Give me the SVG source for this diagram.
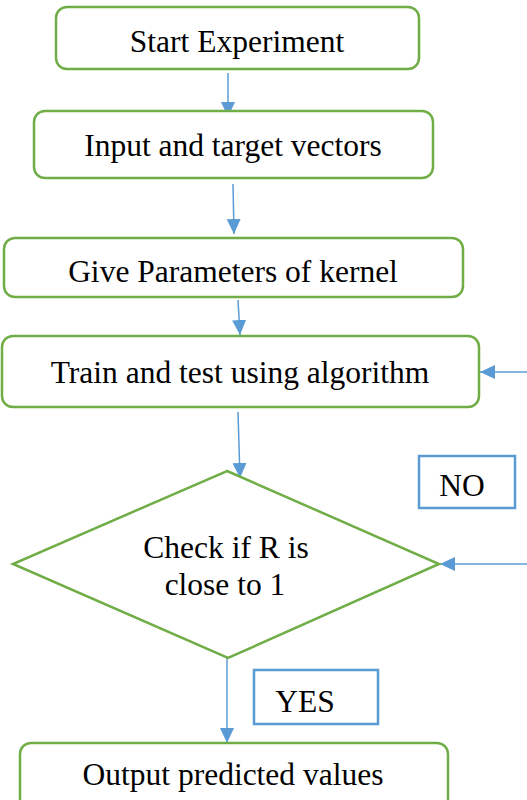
<svg xmlns="http://www.w3.org/2000/svg" width="527" height="800" viewBox="0 0 527 800">
<defs>
<marker id="ah" markerUnits="userSpaceOnUse" markerWidth="16" markerHeight="16" refX="15" refY="7" orient="auto">
<path d="M0,0 L15,7 L0,14 z" fill="#5B9BD5"/>
</marker>
<style>
.box{fill:#fff;stroke:#70AD47;stroke-width:2.5}
.lbl{fill:#fff;stroke:#5B9BD5;stroke-width:2.5}
.t{font-size:31.5px;fill:#000;text-anchor:middle}
.c{stroke:#5B9BD5;stroke-width:1.5;fill:none;marker-end:url(#ah)}
</style>
</defs>
<rect width="527" height="800" fill="#fff"/>
<g id="connectors">
<line class="c" x1="228" y1="73" x2="228" y2="117"/>
<line class="c" x1="233" y1="184" x2="234" y2="234"/>
<line class="c" x1="238" y1="300" x2="240" y2="335"/>
<line class="c" x1="238" y1="412" x2="240" y2="478"/>
<line class="c" x1="227" y1="655" x2="227" y2="743"/>
<line class="c" x1="527" y1="372" x2="480" y2="372"/>
<line class="c" x1="527" y1="564" x2="440" y2="564"/>
</g>
<g font-family="Liberation Serif">
<g id="start">
<rect class="box" x="56" y="7" width="363" height="62" rx="11"/>
<text class="t" x="237" y="52">Start Experiment</text>
</g>
<g id="input">
<rect class="box" x="34" y="111" width="399" height="67" rx="11"/>
<text class="t" x="233" y="156">Input and target vectors</text>
</g>
<g id="params">
<rect class="box" x="4" y="238" width="459" height="59" rx="11"/>
<text class="t" x="233" y="282">Give Parameters of kernel</text>
</g>
<g id="train">
<rect class="box" x="2" y="336" width="477" height="71" rx="11"/>
<text class="t" x="240" y="383">Train and test using algorithm</text>
</g>
<g id="check">
<polygon class="box" points="227,471 439,564 228,658 13,564"/>
<text class="t" x="226" y="558">Check if R is</text>
<text class="t" x="225" y="595">close to 1</text>
</g>
<g id="no">
<rect class="lbl" x="419" y="456" width="96" height="52"/>
<text class="t" x="462" y="496">NO</text>
</g>
<g id="yes">
<rect class="lbl" x="254" y="670" width="124" height="54"/>
<text class="t" x="305" y="712">YES</text>
</g>
<g id="output">
<rect class="box" x="20" y="743" width="428" height="70" rx="11"/>
<text class="t" x="233" y="785">Output predicted values</text>
</g>
</g>
</svg>
